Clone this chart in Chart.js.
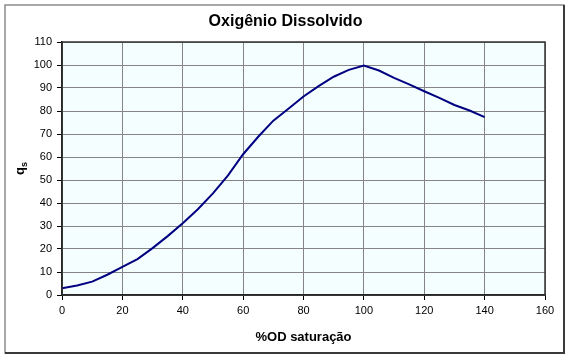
<!DOCTYPE html>
<html>
<head>
<meta charset="utf-8">
<script src="https://cdn.jsdelivr.net/npm/chart.js@4.4.1/dist/chart.umd.min.js"></script>
<style>
html,body{margin:0;padding:0;background:#fff;}
#wrap{width:571px;height:361px;position:relative;}
</style>
</head>
<body>
<div id="wrap"><canvas id="c" width="571" height="361"></canvas></div>
<script>
const chartTitle = 'Oxigênio Dissolvido';
const xAxisTitle = '%OD saturação';
const yAxisMain = 'q';
const yAxisSub = 's';
const saturation = [0, 5, 10, 15, 20, 25, 30, 35, 40, 45, 50, 55, 60, 65, 70, 75, 80, 85, 90, 95, 100, 105, 110, 115, 120, 125, 130, 135, 140];
const qs = [2.9, 4.1, 5.8, 8.8, 12.2, 15.6, 20.4, 25.6, 31.2, 37.3, 44.2, 52.0, 61.2, 68.8, 75.8, 81.0, 86.3, 90.8, 94.9, 97.9, 99.8, 97.6, 94.4, 91.6, 88.6, 85.7, 82.6, 80.2, 77.3];
const xTicks = {min: 0, max: 160, step: 20};
const yTicks = {min: 0, max: 110, step: 10};

const points = saturation.map((x, i) => ({x: x, y: qs[i]}));

const decor = {
  id: 'decor',
  beforeDraw(chart) {
    const ctx = chart.ctx, a = chart.chartArea;
    ctx.save();
    ctx.fillStyle = '#ffffff';
    ctx.fillRect(0, 0, chart.width, chart.height);
    ctx.strokeStyle = '#8c8c8c';
    ctx.lineWidth = 1.5;
    ctx.strokeRect(5, 5, 559, 348);
    ctx.strokeStyle = '#3a3a3a';
    ctx.lineWidth = 2;
    ctx.beginPath();
    ctx.moveTo(564, 5); ctx.lineTo(564, 353); ctx.lineTo(5, 353);
    ctx.stroke();
    ctx.fillStyle = '#f5feff';
    ctx.fillRect(a.left, a.top, a.right - a.left, a.bottom - a.top);
    ctx.restore();
  },
  afterDatasetsDraw(chart) {
    const ctx = chart.ctx, a = chart.chartArea;
    ctx.save();
    ctx.strokeStyle = '#333333';
    ctx.lineWidth = 1.5;
    ctx.strokeRect(a.left, a.top, a.right - a.left, a.bottom - a.top);
    ctx.translate(21, (a.top + a.bottom) / 2);
    ctx.rotate(-Math.PI / 2);
    ctx.fillStyle = '#000';
    ctx.textBaseline = 'alphabetic';
    ctx.font = 'bold 13px "Liberation Sans", Arial, sans-serif';
    const w1 = ctx.measureText(yAxisMain).width;
    ctx.font = 'bold 9px "Liberation Sans", Arial, sans-serif';
    const w2 = ctx.measureText(yAxisSub).width;
    const x0 = -(w1 + w2) / 2;
    ctx.font = 'bold 13px "Liberation Sans", Arial, sans-serif';
    ctx.fillText(yAxisMain, x0, 3);
    ctx.font = 'bold 9px "Liberation Sans", Arial, sans-serif';
    ctx.fillText(yAxisSub, x0 + w1, 6);
    ctx.restore();
  }
};

new Chart(document.getElementById('c'), {
  type: 'scatter',
  data: {
    datasets: [{
      data: points,
      showLine: true,
      borderColor: '#000080',
      backgroundColor: '#000080',
      borderWidth: 2,
      pointRadius: 0,
      tension: 0,
      fill: false
    }]
  },
  plugins: [decor],
  options: {
    responsive: false,
    animation: false,
    devicePixelRatio: 1,
    layout: {padding: {left: 26, right: 26, top: 0, bottom: 0}},
    plugins: {
      legend: {display: false},
      tooltip: {enabled: false},
      title: {
        display: true,
        text: chartTitle,
        color: '#000',
        font: {family: '"Liberation Sans", Arial, sans-serif', size: 16, weight: 'bold'},
        padding: {top: 12, bottom: 10.8}
      }
    },
    scales: {
      x: {
        type: 'linear',
        min: xTicks.min, max: xTicks.max,
        afterFit(s) { s.height = 66; },
        ticks: {stepSize: xTicks.step, color: '#000', padding: 4,
          font: {family: '"Liberation Sans", Arial, sans-serif', size: 11}},
        grid: {color: '#858585', lineWidth: 1, tickLength: 5, tickColor: '#000', drawTicks: true},
        border: {display: true, color: '#000', width: 1.5},
        title: {display: true, text: xAxisTitle, color: '#000',
          font: {family: '"Liberation Sans", Arial, sans-serif', size: 13, weight: 'bold'},
          padding: {top: 0, bottom: 16}}
      },
      y: {
        type: 'linear',
        min: yTicks.min, max: yTicks.max,
        afterFit(s) { s.width = 36; },
        ticks: {stepSize: yTicks.step, color: '#000', padding: 5,
          font: {family: '"Liberation Sans", Arial, sans-serif', size: 11}},
        grid: {color: '#858585', lineWidth: 1, tickLength: 5, tickColor: '#000', drawTicks: true},
        border: {display: true, color: '#000', width: 1.5}
      }
    }
  }
});
</script>
</body>
</html>
